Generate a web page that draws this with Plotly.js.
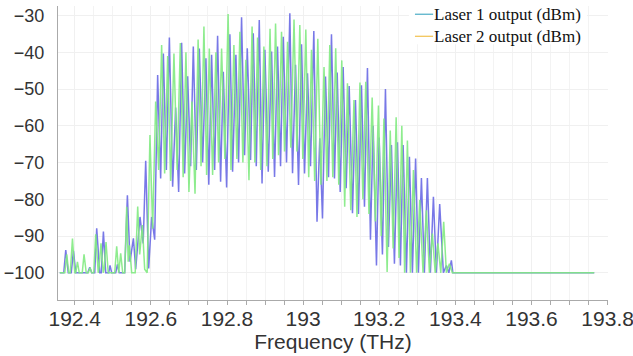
<!DOCTYPE html>
<html>
<head>
<meta charset="utf-8">
<script src="https://cdn.plot.ly/plotly-3.0.1.min.js"></script>
<style>html,body{margin:0;padding:0;background:#fff;}#chart{width:633px;height:356px;}</style>
</head>
<body>
<div id="chart"></div>
<script>
// Laser 1 (blue) spectrum: frequency (THz) and power (dBm), peaks and troughs
const laser1Freq = [
192.3606,192.3711,192.3764,192.3829,192.3908,192.3966,192.4026,192.4341,192.4394,192.4446,
192.4525,192.4577,192.4656,192.4696,192.4753,192.4814,192.4892,192.4927,192.4971,192.5076,
192.5121,192.5168,192.5312,192.5383,192.5452,192.5541,192.5601,192.5714,192.5798,
192.5864,192.5942,192.6021,192.6100,192.6178,192.6257,192.6328,192.6407,192.6486,192.6572,
192.6651,192.6730,192.6808,192.6887,192.6966,192.7045,192.7115,192.7194,192.7273,192.7360,
192.7446,192.7522,192.7596,192.7675,192.7753,192.7832,192.7903,192.7990,192.8076,192.8147,
192.8234,192.8304,192.8383,192.8462,192.8533,192.8619,192.8690,192.8769,192.8848,192.8921,
192.8995,192.9084,192.9171,192.9249,192.9328,192.9407,192.9478,192.9564,192.9651,192.9722,
192.9801,192.9879,192.9958,193.0037,193.0115,193.0194,193.0281,193.0365,193.0438,193.0509,
193.0588,193.0667,193.0745,193.0824,193.0895,193.0974,193.1052,193.1131,193.1210,193.1297,
193.1375,193.1454,193.1533,193.1612,193.1690,193.1769,193.1840,193.1927,193.1997,193.2084,
193.2163,193.2241,193.2320,193.2399,193.2478,193.2556,193.2627,193.2714,193.2793,193.2871,
193.2955,193.3029,193.3108,193.3186,193.3265,193.3344,193.3423,193.3501,193.3588,193.3685,
193.3764,193.3829,193.3895,193.3934,193.7648
];
const laser1Power = [
-100,-100,-93.8,-100,-100,-94,-100,-100,-98.5,-100,
-100,-87.9,-100,-100,-88.8,-100,-100,-98,-100,-100,
-97.7,-100,-100,-78.9,-97,-90.6,-99,-84.8,-92,
-69.5,-98.8,-84.8,-91,-46.2,-74.3,-40.3,-72,-36,-76.6,
-55,-78,-37.4,-73,-46.5,-71,-38.4,-72,-39,-70,
-41.6,-76,-40.7,-72,-35.5,-75.2,-45.3,-76.8,-35.1,-72.5,
-40.7,-70,-30.5,-68,-38.9,-69.3,-34.8,-71,-31.2,-75.7,
-39.3,-72.5,-39.8,-73.9,-38.4,-71,-35.8,-70,-29.4,-72.9,
-43.4,-76.1,-37.8,-73,-45.7,-71,-34.2,-86.1,-63.4,-85.2,
-46.6,-74,-35.1,-74.3,-45.5,-78,-44,-77,-49.2,-83.8,
-53,-84,-49,-82,-44.3,-91,-60,-98,-63.2,-95,
-50,-93,-65.2,-97.5,-64.5,-98,-65.2,-100,-68.4,-100,
-68.9,-100,-74.2,-100,-74.2,-100,-79.3,-100,-81.3,-100,
-98,-100,-96.6,-100,-100
];

// Laser 2 (green) spectrum
const laser2Freq = [
192.3606,192.3738,192.3790,192.3843,192.3882,192.3940,192.4000,192.4026,192.4071,192.4118,
192.4197,192.4244,192.4302,192.4354,192.4402,192.4446,192.4499,192.4551,192.4617,192.4643,
192.4690,192.4748,192.4774,192.4822,192.4879,192.5050,192.5102,192.5155,192.5207,192.5260,
192.5312,192.5365,192.5404,192.5436,192.5496,192.5588,192.5654,192.5706,192.5777,192.5837,
192.5903,192.5976,192.6047,192.6126,192.6205,192.6283,192.6362,192.6441,192.6520,192.6606,
192.6690,192.6774,192.6848,192.6921,192.7000,192.7079,192.7160,192.7241,192.7318,192.7394,
192.7465,192.7535,192.7622,192.7709,192.7780,192.7858,192.7945,192.8029,192.8105,192.8181,
192.8260,192.8339,192.8417,192.8496,192.8577,192.8659,192.8732,192.8803,192.8887,192.8969,
192.9050,192.9131,192.9202,192.9276,192.9354,192.9433,192.9512,192.9591,192.9677,192.9761,
192.9837,192.9913,192.9992,193.0071,193.0147,193.0220,193.0304,193.0386,193.0467,193.0549,
193.0625,193.0701,193.0780,193.0856,193.0937,193.1016,193.1092,193.1165,193.1252,193.1336,
193.1415,193.1493,193.1570,193.1646,193.1730,193.1814,193.1898,193.1979,193.2052,193.2123,
193.2207,193.2289,193.2365,193.2444,193.2520,193.2593,193.2667,193.2740,193.2819,193.2898,
193.2982,193.3063,193.3150,193.3239,193.3318,193.3396,193.3470,193.3541,193.3617,193.3693,
193.3764,193.3843,193.3921,193.7648
];
const laser2Power = [
-100,-100,-95,-100,-100,-90.7,-100,-100,-97,-100,
-100,-95,-100,-100,-98.6,-100,-100,-89.5,-100,-98,
-92,-100,-99,-91.6,-100,-100,-92.8,-100,-94.7,-100,
-100,-82,-97,-92.5,-100,-100,-82,-95,-87,-99,
-100,-62.5,-88,-53.4,-72,-38,-73,-41,-75,-40.3,
-72,-37.5,-74,-40,-78,-53.4,-78.5,-36.5,-71,-33,
-73.4,-39,-73.4,-40,-70,-39,-69,-29.6,-72,-38,
-69,-34.4,-70,-42,-74.8,-33,-70,-36,-72,-38.4,
-71,-33.6,-69,-32.2,-68,-34.4,-67,-37.1,-66,-31.1,
-67,-32.6,-69,-33.8,-74,-39.3,-75,-36.3,-76,-44,
-75,-38,-74,-38.9,-76,-42.2,-82,-48.4,-83,-53,
-84.8,-48.2,-80,-48,-84,-52.3,-86,-54.5,-90,-58,
-99.8,-61.3,-93.4,-57.7,-96,-60,-100,-64,-100,-72,
-100,-80.2,-100,-83,-100,-89.3,-100,-92,-100,-86.1,
-100,-97.5,-100,-100
];

const seriesNames = ['Laser 1 output (dBm)', 'Laser 2 output (dBm)'];

const traces = [
  {x: laser1Freq, y: laser1Power, type: 'scatter', mode: 'lines', name: seriesNames[0],
   line: {color: 'rgba(105,105,228,0.9)', width: 1.5}, showlegend: false},
  {x: laser2Freq, y: laser2Power, type: 'scatter', mode: 'lines', name: seriesNames[1],
   line: {color: 'rgba(130,234,130,0.9)', width: 1.5}, showlegend: false}
];

const serifFont = {family: 'Liberation Serif, Times New Roman, serif', size: 17, color: '#111111'};

const layout = {
  width: 633, height: 356,
  margin: {l: 58, r: 25, t: 6, b: 56},
  paper_bgcolor: '#ffffff', plot_bgcolor: '#ffffff',
  showlegend: false,
  font: {family: 'Liberation Sans, Arial, sans-serif', color: '#333333'},
  xaxis: {
    range: [192.356, 193.801],
    tickmode: 'linear', tick0: 192.4, dtick: 0.2,
    ticks: 'outside', ticklen: 4, tickcolor: '#aaaaaa',
    ticklabeloverflow: 'allow',
    ticklabelstandoff: -4,
    showline: true, linecolor: '#aaaaaa', linewidth: 1,
    showgrid: true, gridcolor: '#f0f0f0',
    zeroline: false,
    minor: {dtick: 0.05, ticks: 'outside', ticklen: 4, tickcolor: '#aaaaaa', showgrid: true, gridcolor: '#f3f3f3'},
    tickfont: {size: 21, color: '#333333'},
    title: {text: 'Frequency (THz)', font: {size: 21, color: '#333333'}, standoff: 4}
  },
  yaxis: {
    range: [-107.4, -27.4],
    tickmode: 'linear', tick0: -100, dtick: 10,
    ticks: '', showline: true, linecolor: '#aaaaaa', linewidth: 1,
    showgrid: true, gridcolor: '#f0f0f0', zeroline: false,
    ticklabelstandoff: 9,
    tickfont: {size: 18, color: '#333333'}
  },
  shapes: [
    {type: 'rect', xref: 'paper', yref: 'paper', x0: 0.638, x1: 0.962, y0: 0.87, y1: 1.03,
     fillcolor: '#ffffff', line: {width: 0}, layer: 'above'},
    {type: 'line', xref: 'paper', yref: 'paper', x0: 0.649, x1: 0.682, y0: 0.972, y1: 0.972,
     line: {color: '#4bacc6', width: 1.2}, layer: 'above'},
    {type: 'line', xref: 'paper', yref: 'paper', x0: 0.649, x1: 0.682, y0: 0.897, y1: 0.897,
     line: {color: '#f2c14e', width: 1.2}, layer: 'above'}
  ],
  annotations: [
    {text: seriesNames[0], xref: 'paper', yref: 'paper', x: 0.682, y: 0.972, xanchor: 'left', yanchor: 'middle',
     showarrow: false, borderpad: 0, font: serifFont},
    {text: seriesNames[1], xref: 'paper', yref: 'paper', x: 0.682, y: 0.897, xanchor: 'left', yanchor: 'middle',
     showarrow: false, borderpad: 0, font: serifFont}
  ]
};

Plotly.newPlot('chart', traces, layout, {displayModeBar: false, staticPlot: true});
</script>
</body>
</html>
